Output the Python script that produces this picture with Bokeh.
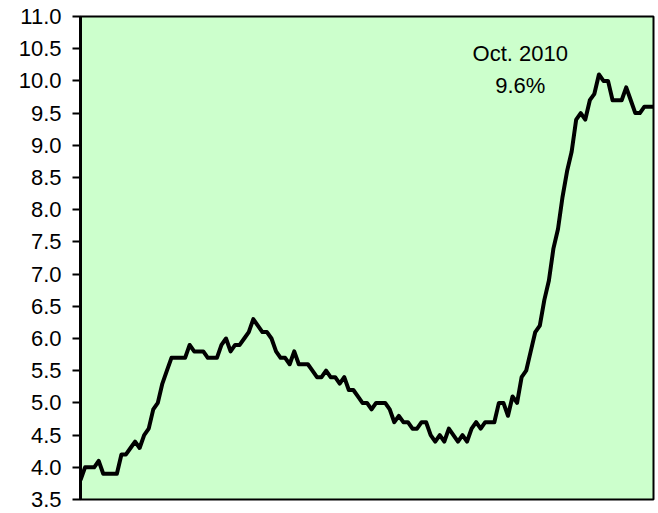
from bokeh.plotting import figure
from bokeh.models import Range1d, FixedTicker, NumeralTickFormatter
from bokeh.core.properties import value
from bokeh.embed import file_html
from bokeh.resources import INLINE

# Monthly unemployment rate (%), Apr 2000 - Oct 2010
rate_2000 = [3.8, 4.0, 4.0, 4.0, 4.1, 3.9, 3.9, 3.9, 3.9]
rate_2001 = [4.2, 4.2, 4.3, 4.4, 4.3, 4.5, 4.6, 4.9, 5.0, 5.3, 5.5, 5.7]
rate_2002 = [5.7, 5.7, 5.7, 5.9, 5.8, 5.8, 5.8, 5.7, 5.7, 5.7, 5.9, 6.0]
rate_2003 = [5.8, 5.9, 5.9, 6.0, 6.1, 6.3, 6.2, 6.1, 6.1, 6.0, 5.8, 5.7]
rate_2004 = [5.7, 5.6, 5.8, 5.6, 5.6, 5.6, 5.5, 5.4, 5.4, 5.5, 5.4, 5.4]
rate_2005 = [5.3, 5.4, 5.2, 5.2, 5.1, 5.0, 5.0, 4.9, 5.0, 5.0, 5.0, 4.9]
rate_2006 = [4.7, 4.8, 4.7, 4.7, 4.6, 4.6, 4.7, 4.7, 4.5, 4.4, 4.5, 4.4]
rate_2007 = [4.6, 4.5, 4.4, 4.5, 4.4, 4.6, 4.7, 4.6, 4.7, 4.7, 4.7, 5.0]
rate_2008 = [5.0, 4.8, 5.1, 5.0, 5.4, 5.5, 5.8, 6.1, 6.2, 6.6, 6.9, 7.4]
rate_2009 = [7.7, 8.2, 8.6, 8.9, 9.4, 9.5, 9.4, 9.7, 9.8, 10.1, 10.0, 10.0]
rate_2010 = [9.7, 9.7, 9.7, 9.9, 9.7, 9.5, 9.5, 9.6, 9.6, 9.6]

rates = (rate_2000 + rate_2001 + rate_2002 + rate_2003 + rate_2004 + rate_2005
         + rate_2006 + rate_2007 + rate_2008 + rate_2009 + rate_2010)
month_index = list(range(len(rates)))

y_ticks = [3.5, 4.0, 4.5, 5.0, 5.5, 6.0, 6.5, 7.0, 7.5, 8.0, 8.5, 9.0, 9.5, 10.0, 10.5, 11.0]
note_line1 = "Oct. 2010"
note_line2 = "9.6%"

FONT = "Liberation Sans"

p = figure(width=656, height=513, output_backend="svg", toolbar_location=None,
           x_range=Range1d(0, len(rates) - 1), y_range=Range1d(3.5, 11.0),
           min_border_left=80, min_border_right=3, min_border_top=16, min_border_bottom=14)

p.background_fill_color = "#CCFFCC"
p.border_fill_color = "white"
p.outline_line_color = "black"
p.outline_line_width = 2
p.grid.visible = False
p.xaxis.visible = False

ya = p.yaxis[0]
ya.ticker = FixedTicker(ticks=y_ticks)
ya.formatter = NumeralTickFormatter(format="0.0")
ya.axis_line_color = "black"
ya.axis_line_width = 3
ya.major_tick_line_color = "black"
ya.major_tick_line_width = 2
ya.major_tick_out = 8
ya.major_tick_in = 0
ya.minor_tick_line_color = None
ya.major_label_standoff = 11
ya.major_label_text_font = FONT
ya.major_label_text_font_size = "22px"
ya.major_label_text_color = "black"

p.line(month_index, rates, line_color="black", line_width=4, line_join="round")

p.text(x=[96.7], y=[10.43], text=[note_line1], text_align="center", text_baseline="middle",
       text_font=value(FONT), text_font_size="22px", text_color="black")
p.text(x=[96.7], y=[9.93], text=[note_line2], text_align="center", text_baseline="middle",
       text_font=value(FONT), text_font_size="22px", text_color="black")

open("out.html", "w").write(file_html(p, INLINE))
